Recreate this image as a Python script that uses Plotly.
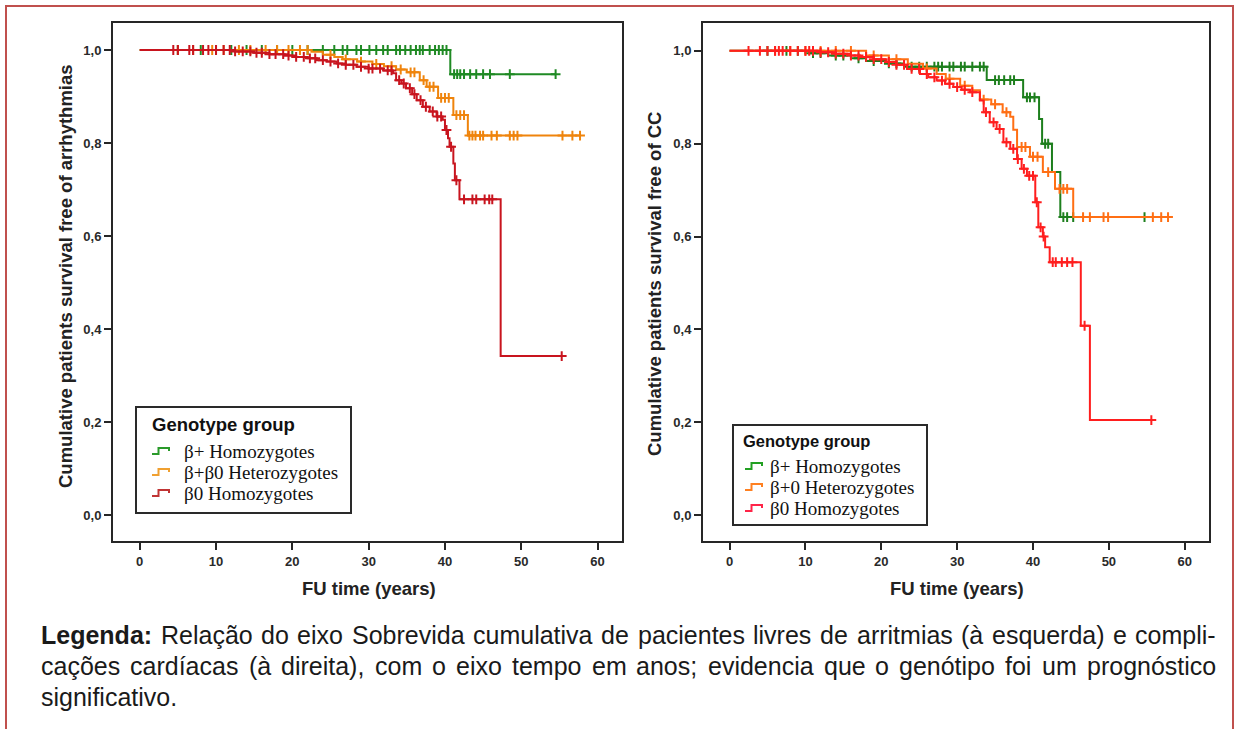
import plotly.graph_objects as go

W, H = 1235, 729

# ---------------- DATA ----------------
# Left panel: survival free of arrhythmias
L_green_t = [40.7]
L_green_s = [0.948]
L_green_end = 54.5
L_green_c = [5, 8, 10, 12, 14, 16, 18, 20, 22, 24, 25.5, 26.6, 27.2, 28.4, 29, 30.1, 31, 31.9, 32.5, 33.6,
             34.1, 34.8, 35.5, 36.2, 36.7, 37.1, 38, 38.7, 39.2, 39.7, 40.2, 41.2, 41.6, 42, 42.5, 43.3,
             44.1, 45, 45.9, 48.5, 54.5]

L_orange_t = [22.5, 24, 25.5, 26.6, 28.5, 30.5, 32, 33.6, 35, 36.7, 37.6, 39.1, 41.1, 43]
L_orange_s = [0.996, 0.99, 0.985, 0.98, 0.975, 0.97, 0.965, 0.958, 0.952, 0.935, 0.921, 0.897, 0.86, 0.816]
L_orange_end = 57.7
L_orange_c = [5, 7, 9.5, 11, 13, 14.5, 16.5, 18, 19.5, 21, 22, 25, 27, 29, 31, 33, 34.2, 35.5, 36, 37.2,
              38, 38.5, 39.5, 40, 40.5, 41.5, 42, 42.5, 43.2, 43.6, 44, 44.6, 45, 46.1, 46.8, 48.5, 49,
              49.5, 55.4, 56.7, 57.7]

L_red_t = [12.5, 15, 17, 19, 20.5, 22, 23.2, 24.5, 25.8, 27, 28.4, 30, 31.9, 33.2, 33.6, 34.3, 34.9,
           35.7, 36.3, 37.1, 38, 38.9, 39.7, 40, 40.4, 40.6, 41.1, 41.3, 41.9, 47.3]
L_red_s = [0.997, 0.994, 0.991, 0.988, 0.985, 0.982, 0.978, 0.975, 0.971, 0.968, 0.964, 0.96, 0.956, 0.95,
           0.935, 0.928, 0.918, 0.905, 0.892, 0.878, 0.868, 0.857, 0.85, 0.828, 0.81, 0.792, 0.756, 0.72,
           0.679, 0.342]
L_red_end = 55.3
L_red_c = [4.4, 5, 6.5, 7, 8.3, 9, 10, 11, 11.8, 12.5, 13.5, 14.5, 15.3, 16, 17, 17.8, 18.8, 19.5, 20.5,
           21.5, 22.3, 23, 24, 25, 26, 27, 28, 29, 30, 30.5, 31.5, 32.5, 33, 34, 34.6, 35.4, 36, 36.8,
           37.5, 38.4, 39, 39.5, 40.2, 40.8, 41.5, 42.5, 43.6, 44.1, 45.2, 45.8, 46.2, 55.3]

# Right panel: survival free of cardiac complications (CC)
R_green_t = [10, 13, 16, 18, 20.5, 23, 33.9, 38.7, 40.8, 41.2, 42.5, 43.6]
R_green_s = [0.995, 0.99, 0.984, 0.978, 0.973, 0.966, 0.937, 0.9, 0.853, 0.8, 0.739, 0.642]
R_green_end = 54.7
R_green_c = [5, 7.5, 9, 11, 12, 14, 15, 17, 19, 21, 22, 24, 25, 26, 27, 27.5, 28, 29, 29.5, 30.5, 31, 32,
             33, 33.5, 35, 35.5, 36.2, 37, 37.5, 39.2, 39.6, 40.2, 41.6, 42, 44, 44.5, 45.3, 54.7]

R_orange_t = [18, 21, 23.5, 25.5, 27.3, 28.5, 30.4, 32, 33, 34.5, 36, 37, 37.4, 37.9, 39.6, 41.3, 42.9, 45.3]
R_orange_s = [0.99, 0.982, 0.972, 0.962, 0.95, 0.94, 0.925, 0.915, 0.895, 0.885, 0.868, 0.858, 0.83,
              0.793, 0.772, 0.739, 0.703, 0.642]
R_orange_end = 58
R_orange_c = [6, 8, 10, 12, 14, 16, 19, 22, 26, 29, 31, 33.5, 35, 36.5, 38.5, 39, 40, 40.6, 42, 43.5,
              44, 44.5, 46.6, 47.5, 49.3, 49.9, 55.8, 56.9, 57.8]

R_red_t = [12, 14, 16, 17.2, 19, 20.7, 22, 23.4, 25.1, 26.2, 27.3, 28.4, 29.5, 30.6, 31.7, 33, 33.5, 34.3,
           35.2, 36.1, 37, 37.9, 38.5, 39.2, 40.3, 40.7, 41.3, 41.6, 42.2, 46.3, 47.5]
R_red_s = [0.997, 0.994, 0.99, 0.987, 0.982, 0.976, 0.97, 0.961, 0.95, 0.943, 0.936, 0.929, 0.922, 0.916,
           0.911, 0.893, 0.868, 0.846, 0.832, 0.803, 0.789, 0.767, 0.746, 0.731, 0.674, 0.62, 0.6, 0.577,
           0.545, 0.408, 0.205]
R_red_end = 55.6
R_red_c = [2.5, 4, 5, 6, 6.5, 7, 8, 9, 10, 10.5, 11, 12, 13, 14, 15, 16, 17, 18, 19, 20, 21, 22, 23, 24,
           25, 26, 27, 28, 29, 30, 31, 32, 33.8, 34.8, 35.6, 36.5, 37.4, 38, 38.8, 39.5, 40, 40.5, 41,
           41.4, 42.6, 43, 43.8, 44.5, 45.2, 46.8, 55.6]

y_ticks = [0.0, 0.2, 0.4, 0.6, 0.8, 1.0]
y_ticktext = ["0,0", "0,2", "0,4", "0,6", "0,8", "1,0"]
x_ticks = [0, 10, 20, 30, 40, 50, 60]

legend_title = "Genotype group"
L_names = ["β+ Homozygotes", "β+β0 Heterozygotes", "β0 Homozygotes"]
R_names = ["β+ Homozygotes", "β+0 Heterozygotes", "β0 Homozygotes"]
L_ytitle = "Cumulative patients survival free of arrhythmias"
R_ytitle = "Cumulative patients survival free of CC"
x_title = "FU time (years)"
caption_bold = "Legenda:"
caption_lines = [
    "Legenda: Relação do eixo Sobrevida cumulativa de pacientes livres de arritmias (à esquerda) e compli-",
    "cações cardíacas (à direita), com o eixo tempo em anos; evidencia que o genótipo foi um prognóstico",
    "significativo.",
]

# ---------------- HELPERS ----------------
def px(x):
    return x / W


def py(y):
    return 1 - y / H


def step_xy(times, surv, end):
    return [0] + list(times) + [end], [1.0] + list(surv) + [surv[-1]]


def surv_at(times, surv, t):
    s = 1.0
    for ti, si in zip(times, surv):
        if ti <= t:
            s = si
    return s


# Arial / Liberation Sans advance widths (1/1000 em)
REG = {'a': 556, 'b': 556, 'c': 500, 'd': 556, 'e': 556, 'f': 278, 'g': 556, 'h': 556, 'i': 222, 'j': 222,
       'k': 500, 'l': 222, 'm': 833, 'n': 556, 'o': 556, 'p': 556, 'q': 556, 'r': 333, 's': 500, 't': 278,
       'u': 556, 'v': 500, 'w': 722, 'x': 500, 'y': 500, 'z': 500, 'ç': 500, 'ã': 556, 'õ': 556, 'à': 556,
       'í': 278, 'ó': 556, 'á': 556, 'é': 556, 'L': 556, 'R': 722, 'S': 667, '(': 333, ')': 333, ',': 278,
       ';': 278, '.': 278, '-': 333, ':': 278, ' ': 278}
BOLD = {'L': 611, 'e': 556, 'g': 611, 'n': 611, 'd': 611, 'a': 556, ':': 333}


def word_width(w, size, bold=False):
    table = BOLD if bold else REG
    return sum(table.get(ch, 556) for ch in w) * size / 1000.0


fig = go.Figure()

L_colors = ["#1f8a24", "#ef840c", "#c8141e"]
R_colors = ["#1d7f1d", "#ff6f14", "#ff1e1e"]

L_series = [(L_green_t, L_green_s, L_green_end, L_green_c),
            (L_orange_t, L_orange_s, L_orange_end, L_orange_c),
            (L_red_t, L_red_s, L_red_end, L_red_c)]
R_series = [(R_green_t, R_green_s, R_green_end, R_green_c),
            (R_orange_t, R_orange_s, R_orange_end, R_orange_c),
            (R_red_t, R_red_s, R_red_end, R_red_c)]

for panel, (series, colors, names) in enumerate([(L_series, L_colors, L_names), (R_series, R_colors, R_names)]):
    xa = "x" if panel == 0 else "x2"
    ya = "y" if panel == 0 else "y2"
    for (t, s, end, c), col, name in zip(series, colors, names):
        xs, ys = step_xy(t, s, end)
        fig.add_trace(go.Scatter(x=xs, y=ys, mode="lines", line=dict(color=col, width=2, shape="hv"),
                                 xaxis=xa, yaxis=ya, showlegend=False, name=name, hoverinfo="skip"))
        cy = [surv_at(t, s, ci) for ci in c]
        fig.add_trace(go.Scatter(x=c, y=cy, mode="markers",
                                 marker=dict(symbol="cross-thin", size=7, line=dict(color=col, width=2)),
                                 xaxis=xa, yaxis=ya, showlegend=False, hoverinfo="skip"))

axis_common = dict(showline=True, mirror=True, linecolor="#262626", linewidth=2, showgrid=False,
                   zeroline=False, ticks="outside", ticklen=7, tickwidth=2, tickcolor="#262626")
tickfont = dict(family="Arial, Liberation Sans", size=13, color="#2a2a2a", weight="bold")

fig.update_layout(
    width=W, height=H, autosize=False,
    margin=dict(l=0, r=0, t=0, b=0),
    paper_bgcolor="white", plot_bgcolor="white",
    xaxis=dict(domain=[px(113), px(622)], range=[-3.5, 63.2], tickvals=x_ticks, tickfont=tickfont,
               anchor="y", **axis_common),
    yaxis=dict(domain=[py(541), py(23)], range=[-0.0555, 1.058], tickvals=y_ticks, ticktext=y_ticktext,
               tickfont=tickfont, anchor="x", **axis_common),
    xaxis2=dict(domain=[px(703), px(1209)], range=[-3.5, 63.2], tickvals=x_ticks, tickfont=tickfont,
                anchor="y2", **axis_common),
    yaxis2=dict(domain=[py(541), py(23)], range=[-0.0555, 1.06], tickvals=y_ticks, ticktext=y_ticktext,
                tickfont=tickfont, anchor="x2", **axis_common),
)

ann = []
shapes = []
title_font = dict(family="Arial, Liberation Sans", size=18.5, color="#222", weight="bold")
ann.append(dict(x=px(65), y=py(276), xref="paper", yref="paper", text=L_ytitle, textangle=-90,
                showarrow=False, font=title_font, xanchor="center", yanchor="middle"))
ann.append(dict(x=px(655), y=py(284), xref="paper", yref="paper", text=R_ytitle, textangle=-90,
                showarrow=False, font=title_font, xanchor="center", yanchor="middle"))
ann.append(dict(x=px(369), y=py(588), xref="paper", yref="paper", text=x_title, showarrow=False,
                font=title_font, xanchor="center", yanchor="middle"))
ann.append(dict(x=px(957), y=py(588), xref="paper", yref="paper", text=x_title, showarrow=False,
                font=title_font, xanchor="center", yanchor="middle"))

# custom legends (step icons)
legend_specs = [
    dict(box=(136, 407, 351, 513), title_xy=(150, 424), tsize=18.5, icon_x=(152, 169), text_x=182,
         rows=[451, 472, 493], esize=19, names=L_names, colors=["#2a9a2a", "#f0a030", "#c03434"]),
    dict(box=(733, 425, 927, 525), title_xy=(741, 441), tsize=16.5, icon_x=(745, 762), text_x=768,
         rows=[466, 487, 508], esize=19, names=R_names, colors=["#22a022", "#ff8020", "#ff2448"]),
]
for spec in legend_specs:
    x0, y0, x1, y1 = spec["box"]
    shapes.append(dict(type="rect", xref="paper", yref="paper", x0=px(x0), y0=py(y1), x1=px(x1), y1=py(y0),
                       line=dict(color="#2a2a2a", width=2), fillcolor="white", layer="above"))
    tx, ty = spec["title_xy"]
    ann.append(dict(x=px(tx), y=py(ty), xref="paper", yref="paper", text=legend_title, showarrow=False,
                    xanchor="left", yanchor="middle",
                    font=dict(family="Arial, Liberation Sans", size=spec["tsize"], color="#111", weight="bold")))
    ix0, ix1 = spec["icon_x"]
    for row, name, col in zip(spec["rows"], spec["names"], spec["colors"]):
        xm = (ix0 + ix1) / 2 - 2
        path = (f"M {px(ix0)},{py(row + 3)} L {px(xm)},{py(row + 3)} L {px(xm)},{py(row - 3)} "
                f"L {px(ix1)},{py(row - 3)} L {px(ix1)},{py(row)}")
        shapes.append(dict(type="path", xref="paper", yref="paper", path=path,
                           line=dict(color=col, width=2), layer="above"))
        ann.append(dict(x=px(spec["text_x"]), y=py(row), xref="paper", yref="paper", text=name,
                        showarrow=False, xanchor="left", yanchor="middle",
                        font=dict(family="Liberation Serif, Times New Roman", size=spec["esize"], color="#111")))

# caption, justified word by word (first two lines), last line left-aligned
cap_size = 25
cap_left, cap_right = 40, 1215
cap_font = dict(family="Arial, Liberation Sans", size=cap_size, color="#1a1a1a")
for i, line in enumerate(caption_lines):
    ycap = py(635 + 31 * i)
    words = line.split(" ")
    bolds = [(i == 0 and w == caption_bold) for w in words]
    widths = [word_width(w, cap_size, b) for w, b in zip(words, bolds)]
    if i < len(caption_lines) - 1 and len(words) > 1:
        gap = (cap_right - cap_left - sum(widths)) / (len(words) - 1)
    else:
        gap = REG[' '] * cap_size / 1000.0
    x = cap_left
    for w, b, wd in zip(words, bolds, widths):
        ann.append(dict(x=px(x - 1), y=ycap, xref="paper", yref="paper", text=(f"<b>{w}</b>" if b else w),
                        showarrow=False, xanchor="left", yanchor="middle", font=cap_font))
        x += wd + gap

# outer red frame
shapes.append(dict(type="rect", xref="paper", yref="paper", x0=px(6), y0=py(760), x1=px(1233), y1=py(6),
                   line=dict(color="#c0504d", width=2), layer="below"))

fig.update_layout(annotations=ann, shapes=shapes)
fig.write_html("out.html", config={"displayModeBar": False},
               post_script="document.body.style.margin='0px';document.body.style.overflow='hidden';")
